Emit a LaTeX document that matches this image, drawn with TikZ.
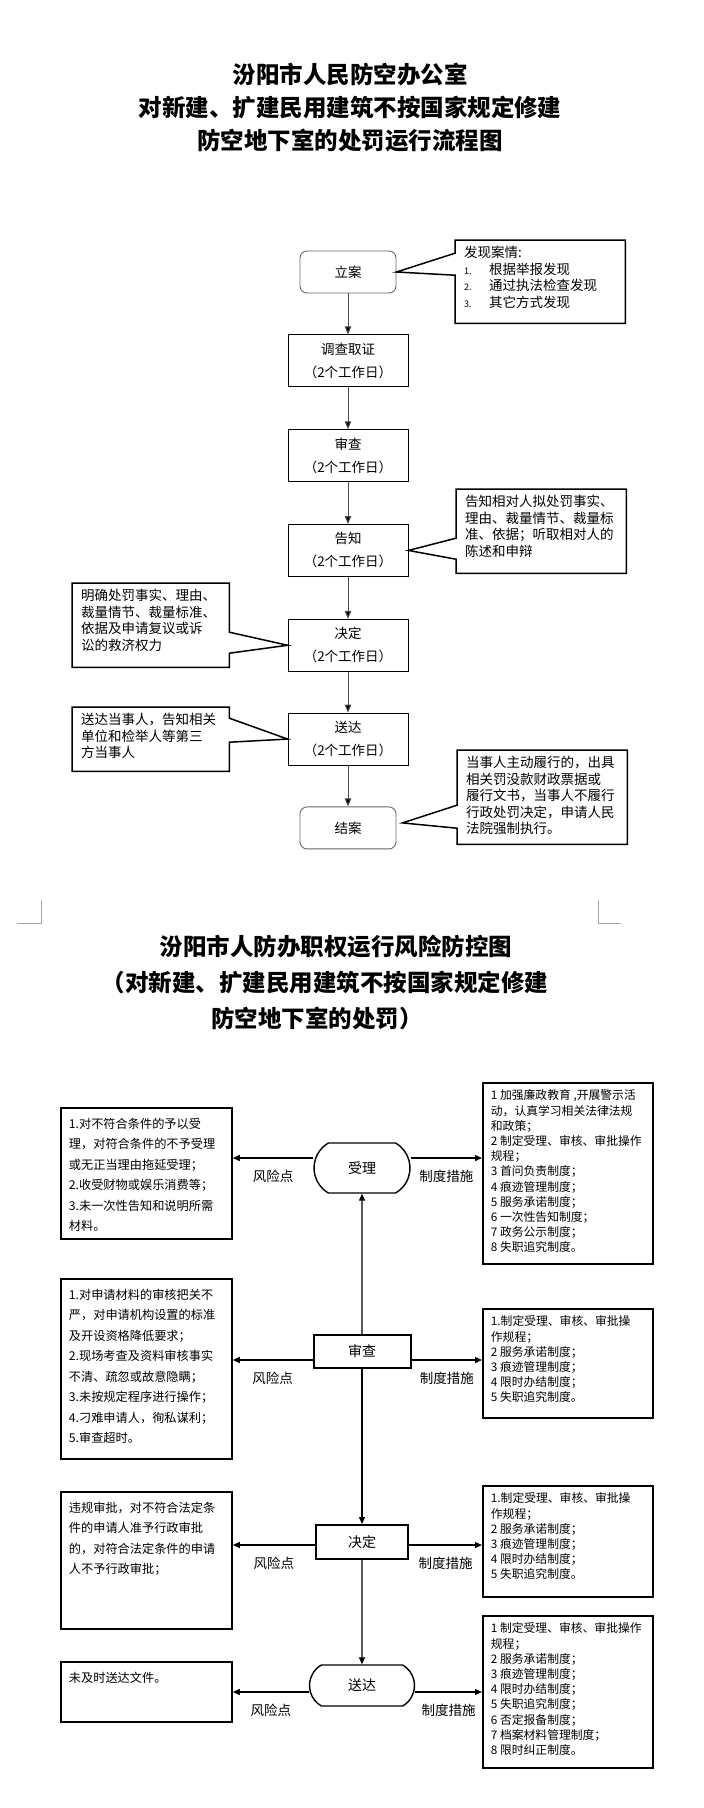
\documentclass[tikz,border=0pt]{standalone}
\usepackage{fontspec}
\setmainfont{Noto Sans CJK SC}
\usetikzlibrary{positioning,arrows.meta,shapes.misc}
\tikzset{
    title-text/.style = {font=\fontsize{23.5pt}{28pt}\selectfont\bfseries, inner sep=0pt},
    flow-box/.style = {draw=black, line width=0.8pt, rectangle, minimum width=120pt, minimum height=52pt, inner sep=0pt, align=center, font=\fontsize{13.5pt}{23pt}\selectfont},
    flow-round/.style = {draw=black!60, line width=0.9pt, rectangle, rounded corners=7pt, minimum width=96pt, minimum height=42pt, inner sep=0pt, font=\fontsize{13.5pt}{16pt}\selectfont},
    flow-arrow/.style = {draw=black!70, line width=1pt, -{Triangle[length=8pt,width=6.5pt,fill=black]}},
    note-box/.style = {anchor=north west, inner xsep=9pt, inner ysep=6pt, font=\fontsize{13.5pt}{16.5pt}\selectfont},
    note-line/.style = {draw=black, line width=1.5pt, line join=miter},
    stage-box/.style = {draw=black, line width=2pt, rectangle, inner sep=0pt, font=\fontsize{14pt}{16pt}\selectfont},
    stage-round/.style = {draw=black, line width=1.4pt, rounded rectangle, rounded rectangle arc length=120, inner sep=0pt, font=\fontsize{14pt}{16pt}\selectfont},
    risk-box/.style = {draw=black, line width=1.8pt, anchor=north west, inner xsep=8pt, inner ysep=10pt, font=\fontsize{12.2pt}{20.5pt}\selectfont},
    rule-box/.style = {draw=black, line width=1.8pt, anchor=north west, inner xsep=8pt, inner ysep=7pt, font=\fontsize{11.8pt}{15.2pt}\selectfont},
    risk-arrow/.style = {draw=black, line width=1.3pt, -{Triangle[length=7pt,width=6pt]}},
    side-label/.style = {font=\fontsize{13.5pt}{16pt}\selectfont, inner sep=0pt, below=11pt},
}

\begin{document}
\begin{tikzpicture}[x=1pt,y=-1pt]
\useasboundingbox (0,0) rectangle (704,1808);

% 运行流程图
\node[title-text] (t1a) at (350,74) {汾阳市人民防空办公室};
\node[title-text] (t1b) at (350,107.5) {对新建、扩建民用建筑不按国家规定修建};
\node[title-text] (t1c) at (350,141) {防空地下室的处罚运行流程图};

\node[flow-round] (lian) at (348,272) {立案};
\node[flow-box, below=41pt of lian] (diaocha) {调查取证\\（2个工作日）};
\node[flow-box, below=42pt of diaocha] (shencha) {审查\\（2个工作日）};
\node[flow-box, below=42pt of shencha] (gaozhi) {告知\\（2个工作日）};
\node[flow-box, below=42pt of gaozhi] (jueding) {决定\\（2个工作日）};
\node[flow-box, below=41pt of jueding] (songda) {送达\\（2个工作日）};
\node[flow-round, below=41pt of songda] (jiean) {结案};

\foreach \a/\b in {lian/diaocha, diaocha/shencha, shencha/gaozhi, gaozhi/jueding, jueding/songda, songda/jiean}
    \draw[flow-arrow] (\a) -- (\b);

\node[note-box] (n-lian) at (455,240) {\begin{minipage}[t][71pt][t]{152pt}
    发现案情:\\
    \makebox[25pt][l]{\fontsize{9pt}{9pt}\selectfont 1.}根据举报发现\\
    \makebox[25pt][l]{\fontsize{9pt}{9pt}\selectfont 2.}通过执法检查发现\\
    \makebox[25pt][l]{\fontsize{9pt}{9pt}\selectfont 3.}其它方式发现
\end{minipage}};
\draw[note-line] (n-lian.north west) -- (n-lian.north east) -- (n-lian.south east) -- (n-lian.south west)
    -- ([yshift=6.5pt]n-lian.west) -- (lian.east) -- ([yshift=28.5pt]n-lian.west) -- cycle;

\node[note-box] (n-gaozhi) at (456,489) {\begin{minipage}[t][72pt][t]{152pt}
    告知相对人拟处罚事实、\\理由、裁量情节、裁量标\\准、依据；听取相对人的\\陈述和申辩
\end{minipage}};
\draw[note-line] (n-gaozhi.north west) -- (n-gaozhi.north east) -- (n-gaozhi.south east) -- (n-gaozhi.south west)
    -- ([yshift=-28pt]n-gaozhi.west) -- (gaozhi.east) -- ([yshift=-7pt]n-gaozhi.west) -- cycle;

\node[note-box] (n-jueding) at (72,583) {\begin{minipage}[t][72pt][t]{139pt}
    明确处罚事实、理由、\\裁量情节、裁量标准、\\依据及申请复议或诉\\讼的救济权力
\end{minipage}};
\draw[note-line] (n-jueding.north west) -- (n-jueding.north east) -- ([yshift=-7pt]n-jueding.east) -- (jueding.west)
    -- ([yshift=-28pt]n-jueding.east) -- (n-jueding.south east) -- (n-jueding.south west) -- cycle;

\node[note-box] (n-songda) at (72,707) {\begin{minipage}[t][52pt][t]{139pt}
    送达当事人，告知相关\\单位和检举人等第三\\方当事人
\end{minipage}};
\draw[note-line] (n-songda.north west) -- (n-songda.north east) -- ([yshift=21pt]n-songda.east) -- (songda.west)
    -- ([yshift=-3pt]n-songda.east) -- (n-songda.south east) -- (n-songda.south west) -- cycle;

\node[note-box] (n-jiean) at (457,750) {\begin{minipage}[t][82pt][t]{152pt}
    当事人主动履行的，出具\\相关罚没款财政票据或\\履行文书，当事人不履行\\行政处罚决定，申请人民\\法院强制执行。
\end{minipage}};
\draw[note-line] (n-jiean.north west) -- (n-jiean.north east) -- (n-jiean.south east) -- (n-jiean.south west)
    -- ([yshift=-31pt]n-jiean.west) -- ([xshift=6pt,yshift=5pt]jiean.east) -- ([yshift=-8pt]n-jiean.west) -- cycle;

% 风险防控图
\draw[black!35] (17,923) -- (41,923) -- (41,900);
\draw[black!35] (598,900) -- (598,923) -- (621,923);

\node[title-text] (t2a) at (336,947) {汾阳市人防办职权运行风险防控图};
\node[title-text] (t2b) at (325,983) {（对新建、扩建民用建筑不按国家规定修建};
\node[title-text] (t2c) at (317,1018) {防空地下室的处罚）};

\node[stage-round, minimum width=96pt, minimum height=50pt] (shouli) at (362,1168) {受理};
\node[stage-box, minimum width=97pt, minimum height=33pt] (shencha2) at (362,1351.5) {审查};
\node[stage-box, minimum width=92pt, minimum height=34pt] (jueding2) at (362,1542) {决定};
\node[stage-round, minimum width=105pt, minimum height=41pt] (songda2) at (362,1685.5) {送达};

\draw[risk-arrow] (shencha2) -- (shouli);
\draw[risk-arrow] (shencha2) -- (jueding2);
\draw[risk-arrow] (jueding2) -- (songda2);

\node[risk-box] (risk1) at (60,1107) {\begin{minipage}[t][111pt][t]{155pt}
    1.对不符合条件的予以受\\理，对符合条件的不予受理\\或无正当理由拖延受理；\\2.收受财物或娱乐消费等；\\3.未一次性告知和说明所需\\材料。
\end{minipage}};
\node[rule-box] (rule1) at (482,1082) {\begin{minipage}[t][167pt][t]{154pt}
    1~加强廉政教育~,开展警示活\\动，认真学习相关法律法规\\和政策；\\2~制定受理、审核、审批操作\\规程；\\3~首问负责制度；\\4~痕迹管理制度；\\5~服务承诺制度；\\6~一次性告知制度；\\7~政务公示制度；\\8~失职追究制度。
\end{minipage}};

\node[risk-box] (risk2) at (60,1278) {\begin{minipage}[t][160pt][t]{155pt}
    1.对申请材料的审核把关不\\严，对申请机构设置的标准\\及开设资格降低要求；\\2.现场考查及资料审核事实\\不清、疏忽或故意隐瞒；\\3.未按规定程序进行操作；\\4.刁难申请人，徇私谋利；\\5.审查超时。
\end{minipage}};
\node[rule-box] (rule2) at (482,1308) {\begin{minipage}[t][95pt][t]{154pt}
    1.制定受理、审核、审批操\\作规程；\\2~服务承诺制度；\\3~痕迹管理制度；\\4~限时办结制度；\\5~失职追究制度。
\end{minipage}};

\node[risk-box] (risk3) at (60,1491) {\begin{minipage}[t][117pt][t]{155pt}
    违规审批，对不符合法定条\\件的申请人准予行政审批\\的，对符合法定条件的申请\\人不予行政审批；
\end{minipage}};
\node[rule-box] (rule3) at (482,1485) {\begin{minipage}[t][97pt][t]{154pt}
    1.制定受理、审核、审批操\\作规程；\\2~服务承诺制度；\\3~痕迹管理制度；\\4~限时办结制度；\\5~失职追究制度。
\end{minipage}};

\node[risk-box] (risk4) at (60,1661) {\begin{minipage}[t][40pt][t]{155pt}
    未及时送达文件。
\end{minipage}};
\node[rule-box] (rule4) at (482,1615) {\begin{minipage}[t][138pt][t]{154pt}
    1~制定受理、审核、审批操作\\规程；\\2~服务承诺制度；\\3~痕迹管理制度；\\4~限时办结制度；\\5~失职追究制度；\\6~否定报备制度；\\7~档案材料管理制度；\\8~限时纠正制度。
\end{minipage}};

\coordinate (a1) at ([yshift=10pt]shouli.west);
\coordinate (b1) at ([yshift=10pt]shouli.east);
\coordinate (a2) at ([yshift=-8.5pt]shencha2.west);
\coordinate (b2) at ([yshift=-8.5pt]shencha2.east);
\coordinate (a3) at ([yshift=-3pt]jueding2.west);
\coordinate (b3) at ([yshift=-3pt]jueding2.east);
\coordinate (a4) at ([yshift=-6.5pt]songda2.west);
\coordinate (b4) at ([yshift=-6.5pt]songda2.east);

\foreach \i in {1,2,3,4} {
    \draw[risk-arrow] (a\i) -- node[side-label] (lr\i) {风险点} (a\i -| risk\i.east);
    \draw[risk-arrow] (b\i) -- node[side-label] (lm\i) {制度措施} (b\i -| rule\i.west);
}
\end{tikzpicture}
\end{document}
